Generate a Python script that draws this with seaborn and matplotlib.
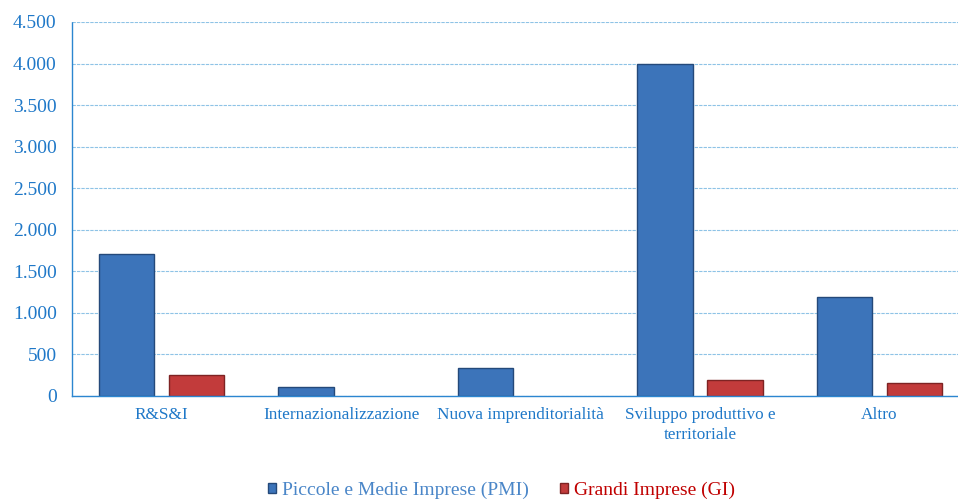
import matplotlib
matplotlib.use("Agg")
import matplotlib.pyplot as plt
import seaborn as sns
import pandas as pd
from matplotlib.ticker import FuncFormatter
from matplotlib.patches import Patch

categories = ["R&S&I", "Internazionalizzazione", "Nuova imprenditorialità",
              "Sviluppo produttivo e\nterritoriale", "Altro"]
series_names = ["Piccole e Medie Imprese (PMI)", "Grandi Imprese (GI)"]
pmi_values = [1710, 105, 335, 4000, 1195]
gi_values = [250, 0, 0, 195, 155]
yticks = [0, 500, 1000, 1500, 2000, 2500, 3000, 3500, 4000, 4500]

df = pd.DataFrame({
    "cat": categories * 2,
    "serie": [series_names[0]] * 5 + [series_names[1]] * 5,
    "val": pmi_values + gi_values,
})

sns.set_theme(style="white")
plt.rcParams["font.family"] = ["Liberation Serif", "DejaVu Serif"]

blue = "#3C74BA"
red = "#C23B3B"
tick_col = "#1F78C8"

fig = plt.figure(figsize=(9.58, 5.01), dpi=100)
ax = fig.add_axes([72 / 958, 105 / 501, 897 / 958, 374 / 501])

sns.barplot(data=df, x="cat", y="val", hue="serie", order=categories,
            hue_order=series_names, palette=[blue, red], width=0.78, gap=0.21,
            ax=ax, legend=False, saturation=1)

for p, col in zip(ax.patches, [blue] * 5 + [red] * 5):
    edge = "#24497A" if col == blue else "#7E2323"
    p.set_edgecolor(edge)
    p.set_linewidth(1.0)
    if p.get_height() <= 0:
        p.set_visible(False)

ax.set_ylim(0, 4500)
ax.set_xlim(-0.5, 4.5)
ax.set_yticks(yticks)
ax.yaxis.set_major_formatter(FuncFormatter(lambda v, _: f"{int(v):,}".replace(",", ".")))
ax.yaxis.grid(True, color="#8EC3E6", linestyle=(0, (3, 1)), linewidth=0.8)
ax.set_axisbelow(True)
ax.set_xlabel("")
ax.set_ylabel("")

for s in ["top", "right"]:
    ax.spines[s].set_visible(False)
for s in ["left", "bottom"]:
    ax.spines[s].set_visible(True)
    ax.spines[s].set_color("#2C86D0")
    ax.spines[s].set_linestyle((0, (1, 1)))
    ax.spines[s].set_linewidth(1.0)

ax.tick_params(axis="y", colors=tick_col, labelsize=14, length=0, pad=11)
ax.tick_params(axis="x", colors=tick_col, labelsize=12.4, length=0, pad=8)
for t in ax.get_xticklabels():
    t.set_color(tick_col)
    t.set_linespacing(1.3)

handles = [Patch(facecolor=blue, edgecolor="#24497A"), Patch(facecolor=red, edgecolor="#7E2323")]
leg = fig.legend(handles, series_names, loc="center", bbox_to_anchor=(0.5235, 0.022),
                 ncol=2, frameon=False, fontsize=14, handlelength=0.4, handleheight=0.4,
                 handletextpad=0.3, columnspacing=1.6, borderpad=0.2)
leg.get_texts()[0].set_color("#4A86C8")
leg.get_texts()[1].set_color("#C00000")

fig.savefig("out.png", dpi=100)
